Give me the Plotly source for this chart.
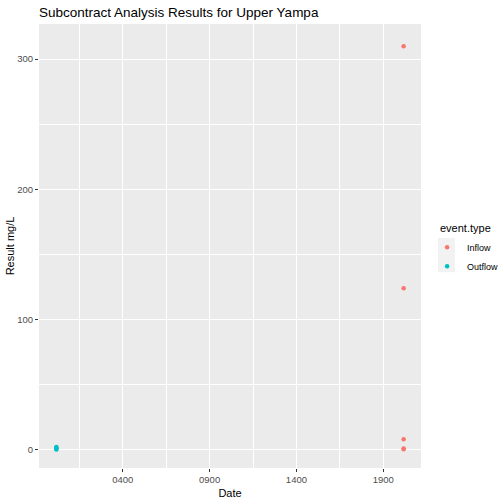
import plotly.graph_objects as go

# sampling dates (the source data had the year mangled for outflow samples)
inflow_dates = ["2017-07-15", "2017-07-15", "2017-07-15", "2017-07-15", "2017-07-15"]
inflow_result = [310, 124, 8, 1, 0.4]

outflow_dates = ["0017-07-15", "0017-07-15", "0017-07-15", "0017-07-15"]
outflow_result = [0.3, 0.9, 1.4, 2.1]

font_family = "Liberation Sans, Arial, sans-serif"

fig = go.Figure()
fig.add_trace(go.Scatter(x=inflow_dates, y=inflow_result, mode="markers", name="Inflow",
                         marker=dict(color="#F8766D", size=4.5)))
fig.add_trace(go.Scatter(x=outflow_dates, y=outflow_result, mode="markers", name="Outflow",
                         marker=dict(color="#00BFC4", size=4.5)))

# grey background behind legend keys, like ggplot
fig.add_shape(type="rect", xref="paper", yref="paper",
              x0=1.0445, x1=1.089, y0=0.441, y1=0.518,
              fillcolor="#F2F2F2", line=dict(width=0), layer="below")
# legend title
fig.add_annotation(text="event.type", xref="paper", yref="paper", x=1.0445, y=0.5405,
                   xanchor="left", yanchor="middle", showarrow=False,
                   font=dict(size=11, color="black"))

fig.update_layout(
    width=504, height=504,
    margin=dict(l=39, r=83, t=24, b=36, autoexpand=False),
    paper_bgcolor="white", plot_bgcolor="#EBEBEB",
    font=dict(family=font_family, color="black"),
    title=dict(text="Subcontract Analysis Results for Upper Yampa", x=39 / 504, xanchor="left",
               y=1 - 12 / 504, yanchor="middle", font=dict(size=13.5, color="black")),
    legend=dict(font=dict(size=9), x=1.016, xanchor="left", y=0.53, yanchor="top",
                bgcolor="rgba(0,0,0,0)", itemwidth=30, tracegroupgap=0),
    showlegend=True,
)

fig.update_xaxes(
    type="date", range=["-0083-07-15", "2117-07-15"], automargin=False,
    tick0="0400-01-01", dtick="M6000", tickformat="%Y",
    showgrid=True, gridcolor="white", gridwidth=1.1,
    minor=dict(tick0="0150-01-01", dtick="M6000", showgrid=True, gridcolor="white", gridwidth=0.5),
    ticks="outside", ticklen=3, tickcolor="#333333", tickwidth=1,
    tickfont=dict(size=9.5, color="#4D4D4D"),
    title=dict(text="Date", font=dict(size=11), standoff=4),
    zeroline=False, showline=False,
)
fig.update_yaxes(
    range=[-14, 327], tick0=0, dtick=100, automargin=False,
    showgrid=True, gridcolor="white", gridwidth=1.1,
    minor=dict(tick0=50, dtick=100, showgrid=True, gridcolor="white", gridwidth=0.5),
    ticks="outside", ticklen=3, tickcolor="#333333", tickwidth=1,
    tickfont=dict(size=9.5, color="#4D4D4D"),
    title=dict(text="Result mg/L", font=dict(size=11), standoff=0),
    zeroline=False, showline=False,
)

# drop the default page margin so the chart sits at the window corner
fig.write_html("out.html", config={"displayModeBar": False},
               post_script="document.body.style.margin='0';")
